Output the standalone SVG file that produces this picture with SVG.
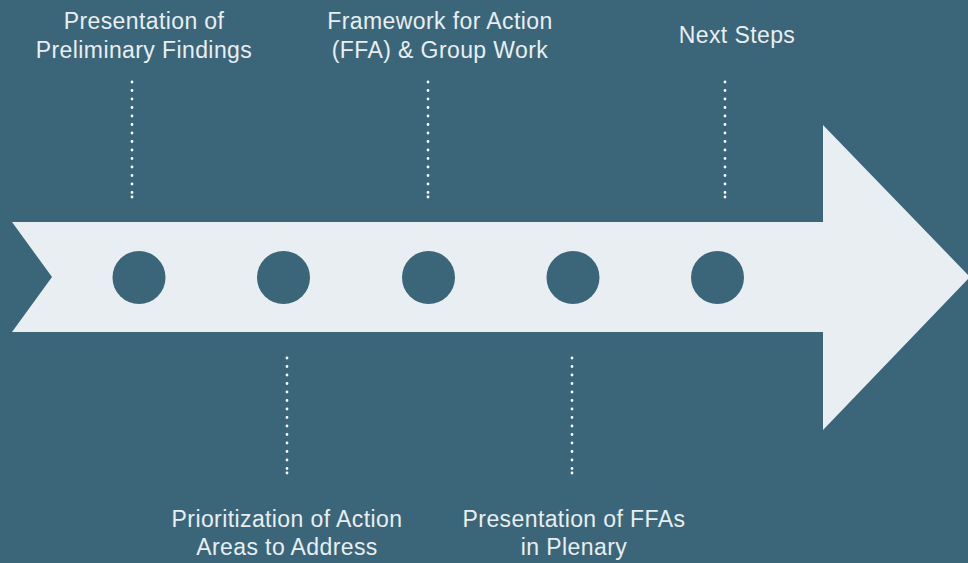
<svg xmlns="http://www.w3.org/2000/svg" width="968" height="563" viewBox="0 0 968 563">
  <style>
    .lbl { font-family: "Liberation Sans", Arial, sans-serif; font-size: 23px; fill: #e8eef1; text-anchor: middle; letter-spacing: 0.4px; }
    .dot { stroke: #ffffff; stroke-width: 2.8; stroke-linecap: round; stroke-dasharray: 0 8.5; fill: none; }
    .end { fill: #ffffff; }
    .node { fill: #3b6679; }
  </style>
  <rect x="0" y="0" width="968" height="563" fill="#3b6679"/>
  <g id="arrow">
    <polygon points="12,222 823,222 823,125 970,277 823,430 823,332 12,332 52,277" fill="#e8eef1"/>
  </g>
  <g id="connectors">
    <line class="dot" x1="132" y1="82" x2="132" y2="193"/>
    <circle class="end" cx="132" cy="197" r="1.4"/>
    <line class="dot" x1="428" y1="82" x2="428" y2="193"/>
    <circle class="end" cx="428" cy="197" r="1.4"/>
    <line class="dot" x1="725" y1="82" x2="725" y2="193"/>
    <circle class="end" cx="725" cy="197" r="1.4"/>
    <line class="dot" x1="287" y1="358" x2="287" y2="469"/>
    <circle class="end" cx="287" cy="473" r="1.4"/>
    <line class="dot" x1="572" y1="358" x2="572" y2="469"/>
    <circle class="end" cx="572" cy="473" r="1.4"/>
  </g>
  <g id="node1">
    <circle class="node" cx="139" cy="277.5" r="26.5"/>
    <text class="lbl" x="144" y="29">Presentation of</text>
    <text class="lbl" x="144" y="58">Preliminary Findings</text>
  </g>
  <g id="node2">
    <circle class="node" cx="283.5" cy="277.5" r="26.5"/>
    <text class="lbl" x="287" y="527">Prioritization of Action</text>
    <text class="lbl" x="287" y="555">Areas to Address</text>
  </g>
  <g id="node3">
    <circle class="node" cx="428.5" cy="277.5" r="26.5"/>
    <text class="lbl" x="440" y="29">Framework for Action</text>
    <text class="lbl" x="440" y="58">(FFA) &amp; Group Work</text>
  </g>
  <g id="node4">
    <circle class="node" cx="573" cy="277.5" r="26.5"/>
    <text class="lbl" x="574" y="527">Presentation of FFAs</text>
    <text class="lbl" x="574" y="555">in Plenary</text>
  </g>
  <g id="node5">
    <circle class="node" cx="717.5" cy="277.5" r="26.5"/>
    <text class="lbl" x="737" y="43">Next Steps</text>
  </g>
</svg>
